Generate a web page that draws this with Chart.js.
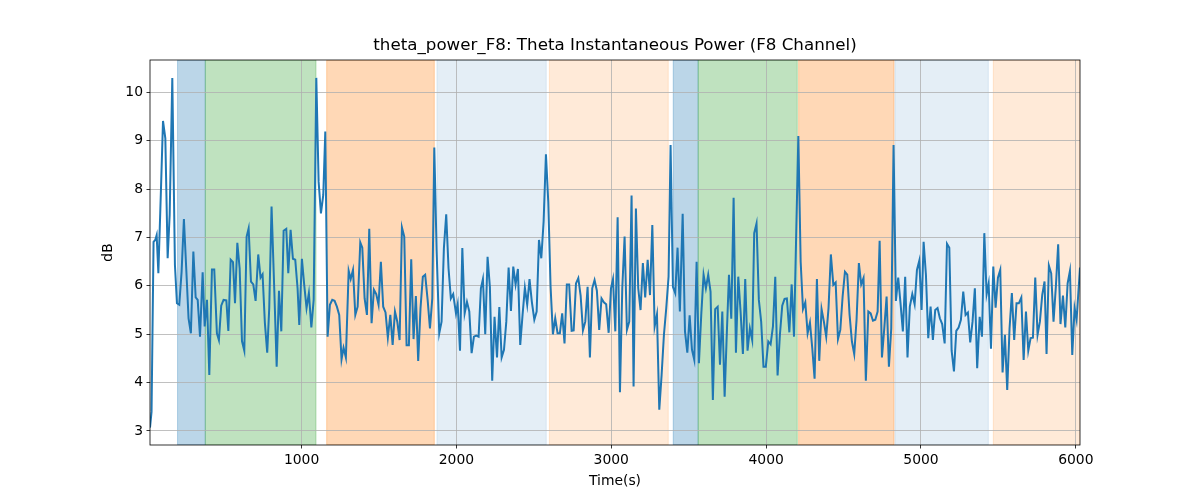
<!DOCTYPE html>
<html>
<head>
<meta charset="utf-8">
<title>theta_power_F8</title>
<script src="https://cdn.jsdelivr.net/npm/chart.js@4.4.1/dist/chart.umd.min.js"></script>
<style>
  html, body { margin: 0; padding: 0; background: #fff; }
  canvas { display: block; }
</style>
</head>
<body>
<canvas id="thetaChart" width="1200" height="500"></canvas>
<script>
// Zeit (s) und Leistung (dB)
const TIME_S = [
  21,31,44,55,64,75,92,105,120,135,148,165,182,195,210,225,240,255,270,285,
  301,316,329,344,361,374,389,404,421,436,453,466,481,496,514,527,542,557,570,585,
  600,615,630,645,658,673,688,703,720,735,748,763,778,791,806,824,839,854,869,884,
  901,914,929,944,959,974,
  985,1002,1017,1032,1047,1063,1078,1095,1110,1125,1140,1153,1168,1183,1198,1213,1228,1243,1258,1271,
  1286,1304,1317,1332,1347,1362,1379,1392,1407,1422,1437,1452,1467,1482,1497,1512,1527,1542,1557,1573,
  1588,1603,1618,1633,1648,1663,1678,1693,1708,1723,1738,1753,1768,1783,1798,1814,1829,1844,1857,1872,
  1889,1904,1919,1934,1949,1964,1979,
  1997,2008,2023,2038,2053,2068,2083,2098,2113,2128,2143,2158,2171,2186,2201,2216,2231,2246,2262,2277,
  2292,2307,2322,2337,2352,2367,2382,2397,2412,2427,2442,2457,2472,2487,2503,2518,2533,2548,2563,2578,
  2593,2608,2623,2638,2653,2668,2683,2698,2713,2728,2744,2757,2772,2787,2802,2817,2832,2847,2862,2877,
  2892,2907,2922,2937,2952,2967,2983,
  2998,3011,3026,3041,3056,3071,3086,3101,3116,3131,3144,3159,3174,3189,3204,3219,3235,3250,3265,3280,
  3295,3310,3325,3340,3355,3370,3383,3398,3413,3428,3443,3461,3476,3491,3506,3521,3536,3551,3566,3581,
  3596,3611,3626,3641,3656,3671,3687,3702,3717,3732,3745,3760,3775,3790,3805,3820,3835,3850,3865,3880,
  3895,3910,3923,3938,3953,3968,3983,3998,4014,
  4029,4044,4059,4074,4089,4104,4119,4134,4150,4165,4180,4195,4208,4223,4238,4253,4268,4283,4298,4313,
  4328,4343,4358,4373,4388,4403,4418,4434,4449,4464,4479,4494,4509,4524,4539,4554,4569,4584,4599,4614,
  4629,4644,4660,4675,4690,4705,4720,4733,4748,4763,4778,4793,4808,4823,4838,4853,4868,4883,4898,4913,
  4928,4944,4959,4974,4989,
  5004,5017,5032,5047,5062,5077,5092,5107,5122,5137,5153,5168,5183,5198,5213,5228,5243,5258,5273,5288,
  5303,5318,5333,5348,5363,5379,5394,5409,5424,5437,5452,5467,5482,5497,5512,5527,5542,5557,5572,5587,
  5602,5617,5632,5648,5663,5678,5693,5708,5723,5738,5753,5768,5783,5798,5811,5826,5841,5856,5871,5886,
  5901,5917,5932,5947,5962,5977,5992,6005,6027
];

const POWER_DB = [
  3.07,3.40,6.91,6.95,7.05,6.26,8.02,9.41,9.05,6.57,7.47,10.30,6.43,5.64,5.61,6.29,7.38,6.36,5.33,5.02,
  6.71,5.76,5.71,4.95,6.28,5.16,5.71,4.16,6.34,6.34,5.02,4.88,5.59,5.71,5.70,5.07,6.54,6.49,5.64,6.89,
  6.36,4.86,4.66,7.02,7.19,6.09,6.03,5.69,6.65,6.17,6.24,5.23,4.62,5.54,7.64,5.88,4.33,5.90,5.06,7.14,
  7.18,6.26,7.16,6.56,6.54,5.95,
  5.19,6.56,6.02,5.54,5.85,5.14,5.71,10.30,8.15,7.50,7.88,9.19,4.95,5.61,5.71,5.69,5.57,5.40,4.48,4.72,
  4.52,6.31,6.14,6.33,5.40,5.57,6.90,6.79,5.74,5.40,7.18,5.23,5.92,5.83,5.61,6.50,5.57,5.45,4.93,5.40,
  4.78,5.47,5.26,4.88,7.21,7.02,4.77,4.77,6.55,4.90,5.79,4.45,5.54,6.19,6.23,5.71,5.12,5.74,8.86,6.72,
  5.02,5.26,6.78,7.48,6.36,5.74,5.83,
  5.43,5.62,4.66,6.78,5.43,5.67,5.47,4.61,4.95,4.97,4.95,5.95,6.14,5.00,6.60,5.98,4.04,5.36,4.52,5.56,
  4.52,4.68,5.26,6.38,5.48,6.40,6.03,6.35,4.78,5.40,5.96,5.61,6.14,5.67,5.30,5.47,6.95,6.57,7.33,8.72,
  7.74,5.98,5.00,5.33,5.02,5.02,5.43,4.81,6.03,6.03,5.07,5.08,6.05,6.16,5.80,5.08,5.26,5.98,4.52,5.95,
  6.12,5.90,5.09,5.74,5.66,5.62,5.03,
  5.95,6.14,5.06,7.42,3.80,5.95,7.02,5.09,5.26,7.87,3.92,7.60,5.95,5.50,6.47,5.76,6.54,5.81,7.26,5.16,
  5.41,3.44,4.16,4.99,5.54,6.19,8.91,5.98,5.85,6.79,5.47,7.49,5.06,4.62,5.39,4.68,4.47,6.50,4.40,5.40,
  6.23,5.95,6.23,5.88,3.64,5.52,5.57,4.37,5.47,3.71,4.92,6.23,5.32,7.82,4.62,6.19,5.47,4.59,6.14,4.66,
  5.12,4.88,7.09,7.29,5.71,5.26,4.33,4.33,4.85,
  4.79,5.16,6.19,4.15,4.99,5.59,5.73,5.74,5.04,6.03,4.95,7.19,9.10,6.50,5.52,5.66,5.02,5.24,4.71,4.08,
  6.14,4.45,5.52,5.26,4.95,5.54,6.65,6.02,6.07,4.90,5.09,5.78,6.29,6.23,5.40,4.85,4.59,5.30,6.47,6.03,
  6.16,4.04,5.47,5.43,5.28,5.30,5.47,6.93,4.52,5.12,5.78,4.33,5.12,8.91,5.69,6.17,5.64,5.06,6.19,4.52,
  5.57,5.83,5.62,6.33,6.52,
  5.50,6.91,6.23,4.92,5.57,4.88,5.50,5.54,5.33,5.21,4.81,6.87,6.79,4.66,4.23,5.07,5.14,5.30,5.88,5.40,
  5.45,4.83,5.26,5.95,4.30,5.36,4.95,7.09,5.83,6.05,4.70,6.40,5.55,6.17,6.33,4.21,4.99,3.85,5.12,5.85,
  4.88,5.64,5.64,5.76,4.47,5.47,4.66,4.92,4.93,6.17,4.99,5.26,5.81,6.09,4.59,6.42,6.26,5.26,5.98,6.86,
  5.21,5.80,5.14,6.05,6.31,4.57,5.54,5.30,6.38
];

// Hinterlegte Abschnitte (Start/Ende in s)
const SPAN_START = [199, 378, 1162, 1874, 2600, 3400, 3561, 4210, 4832, 5467];
const SPAN_END   = [378, 1093, 1857, 2580, 3368, 3561, 4201, 4826, 5435, 6027];
const SPAN_KIND  = ['blue', 'green', 'orange', 'lightblue', 'lightorange',
                    'blue', 'green', 'orange', 'lightblue', 'lightorange'];

const X_TICKS = [1000, 2000, 3000, 4000, 5000, 6000];
const Y_TICKS = [3, 4, 5, 6, 7, 8, 9, 10];

const TITLE = 'theta_power_F8: Theta Instantaneous Power (F8 Channel)';

const spanColors = {
  blue: 'rgba(31, 119, 180, 0.3)',
  green: 'rgba(44, 160, 44, 0.3)',
  orange: 'rgba(255, 127, 14, 0.3)',
  lightblue: 'rgba(31, 119, 180, 0.12)',
  lightorange: 'rgba(255, 127, 14, 0.16)'
};

const FONT = 'DejaVu Sans';

const spanPlugin = {
  id: 'spans',
  beforeDraw(chart) {
    const { ctx, chartArea, scales: { x } } = chart;
    ctx.save();
    ctx.beginPath();
    ctx.rect(chartArea.left, chartArea.top, chartArea.right - chartArea.left, chartArea.bottom - chartArea.top);
    ctx.clip();
    SPAN_START.forEach((s, i) => {
      const x0 = x.getPixelForValue(s);
      const x1 = x.getPixelForValue(SPAN_END[i]);
      ctx.fillStyle = spanColors[SPAN_KIND[i]];
      ctx.fillRect(x0, chartArea.top, x1 - x0, chartArea.bottom - chartArea.top);
      ctx.strokeStyle = spanColors[SPAN_KIND[i]];
      ctx.lineWidth = 1;
      ctx.strokeRect(x0, chartArea.top, x1 - x0, chartArea.bottom - chartArea.top);
    });
    ctx.restore();
  },
  afterDatasetsDraw(chart) {
    // Rahmen um die Achsen wie bei matplotlib, Titel mittig über der Achsfläche
    const { ctx, chartArea } = chart;
    ctx.save();
    ctx.strokeStyle = '#000';
    ctx.lineWidth = 0.8;
    ctx.strokeRect(chartArea.left, chartArea.top, chartArea.right - chartArea.left, chartArea.bottom - chartArea.top);
    ctx.fillStyle = '#000';
    ctx.font = '16.7px "' + FONT + '"';
    ctx.textAlign = 'center';
    ctx.textBaseline = 'middle';
    ctx.fillText(TITLE, (chartArea.left + chartArea.right) / 2, 46);
    ctx.restore();
  }
};

const points = TIME_S.map((t, i) => ({ x: t, y: POWER_DB[i] }));

const ctx = document.getElementById('thetaChart').getContext('2d');
new Chart(ctx, {
  type: 'line',
  data: {
    datasets: [{
      data: points,
      borderColor: '#1f77b4',
      borderWidth: 2,
      pointRadius: 0,
      tension: 0,
      fill: false
    }]
  },
  options: {
    responsive: false,
    animation: false,
    layout: { padding: { left: 0, right: 120, top: 60, bottom: 0 } },
    plugins: {
      legend: { display: false },
      tooltip: { enabled: false },
      title: { display: false }
    },
    scales: {
      x: {
        type: 'linear',
        min: 21,
        max: 6027,
        afterBuildTicks: scale => { scale.ticks = X_TICKS.map(v => ({ value: v })); },
        afterFit: scale => { scale.height = 55; },
        grid: { color: '#b0b0b0', lineWidth: 0.8, tickColor: '#000', tickLength: 3.5, tickWidth: 0.8 },
        border: { display: false },
        ticks: {
          color: '#000', font: { family: FONT, size: 13.9 }, padding: 3.5, maxRotation: 0,
          callback: v => String(v)
        },
        title: {
          display: true, text: 'Time(s)', color: '#000',
          font: { family: FONT, size: 13.9 }, padding: { top: 0, bottom: 10.7 }
        }
      },
      y: {
        min: 2.71,
        max: 10.67,
        afterBuildTicks: scale => { scale.ticks = Y_TICKS.map(v => ({ value: v })); },
        afterFit: scale => { scale.width = 150; },
        grid: { color: '#b0b0b0', lineWidth: 0.8, tickColor: '#000', tickLength: 3.5, tickWidth: 0.8 },
        border: { display: false },
        ticks: {
          color: '#000', font: { family: FONT, size: 13.9 }, padding: 3.5,
          callback: v => String(v)
        },
        title: {
          display: true, text: 'dB', color: '#000',
          font: { family: FONT, size: 13.9 }, padding: { top: 100, bottom: 0 }
        }
      }
    }
  },
  plugins: [spanPlugin]
});
</script>
</body>
</html>
